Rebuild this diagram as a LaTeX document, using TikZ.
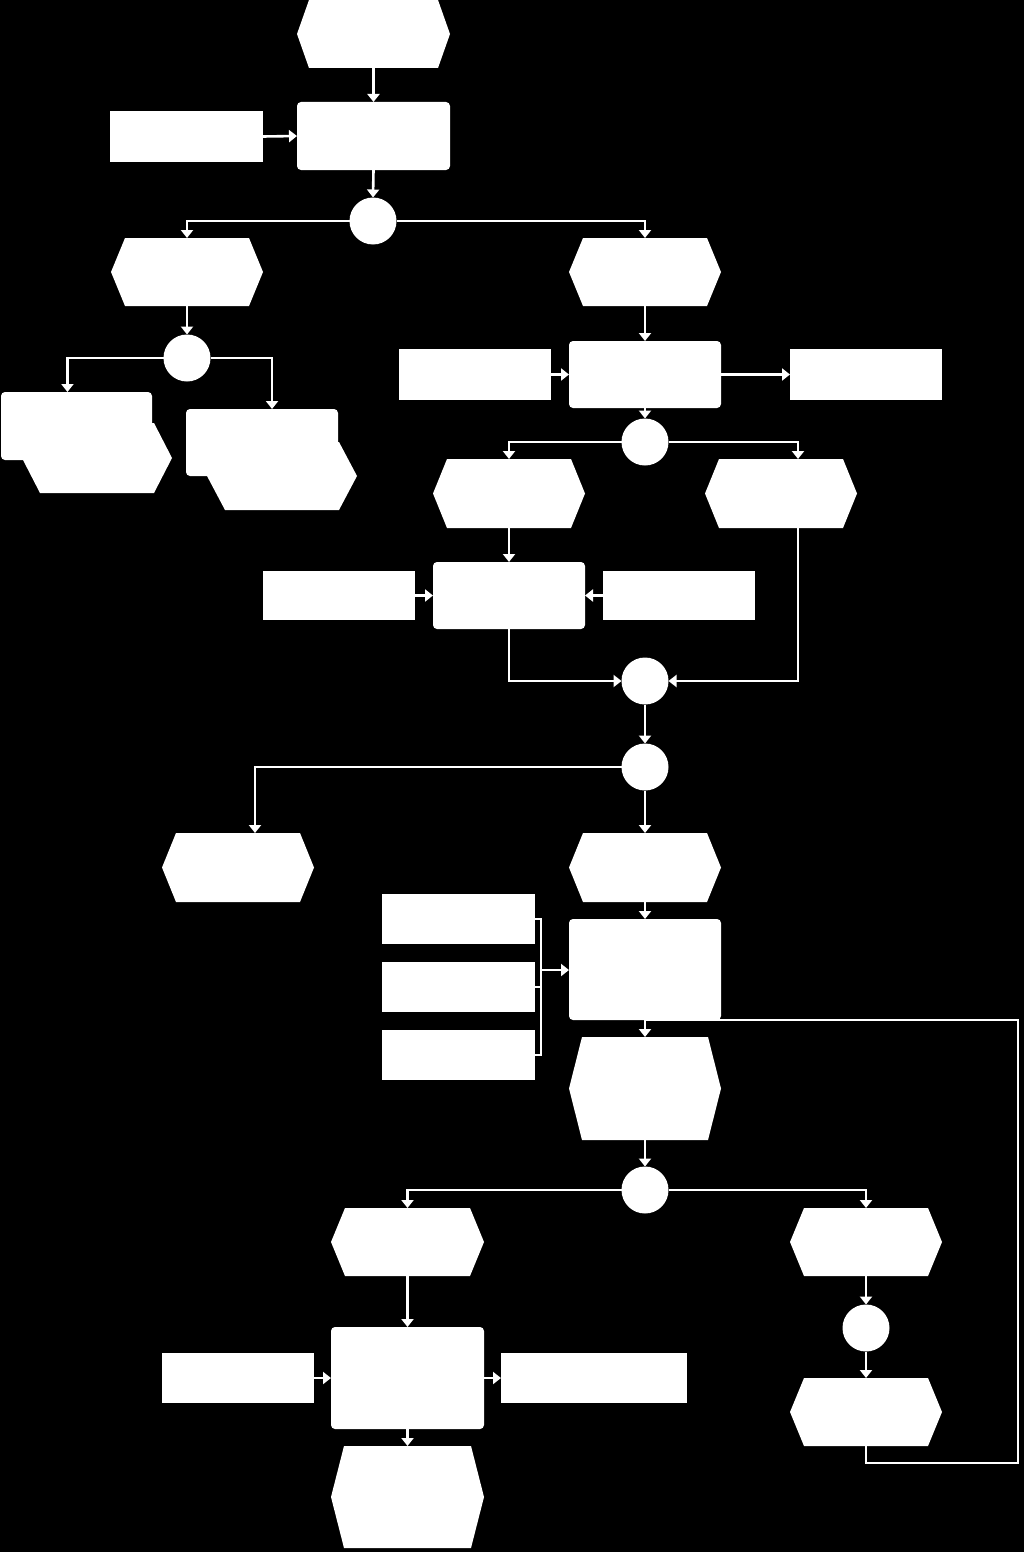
\documentclass[tikz,border=0pt]{standalone}
\usetikzlibrary{arrows.meta,calc}
\begin{document}
\begin{tikzpicture}[x=1pt,y=-1pt,
  base/.style={inner sep=0pt, outer sep=0pt},
  inbox/.style={base, fill=white, minimum width=152pt, minimum height=50pt},
  funbox/.style={base, fill=white, rounded corners=4pt, minimum width=152pt, minimum height=68pt},
  anchorbox/.style={base, minimum width=152pt, minimum height=68pt},
  hexfill/.style={path picture={\fill[white]
     ([xshift=#1]path picture bounding box.north west) -- ([xshift=-#1]path picture bounding box.north east) -- (path picture bounding box.east) -- ([xshift=-#1]path picture bounding box.south east) -- ([xshift=#1]path picture bounding box.south west) -- (path picture bounding box.west) -- cycle;}},
  hexbox/.style={base, fill=black, minimum width=152pt, minimum height=68pt, hexfill=14pt},
  hextall/.style={hexbox, minimum height=102pt, hexfill=13pt},
  joint/.style={base, circle, fill=white, minimum size=47pt},
  link/.style={white, line width=2.6pt},
  arr/.style={link, -{Triangle[width=12pt,length=8pt]}}
]
\fill[black] (0,0) rectangle (1024,1552);
\useasboundingbox (0,0) rectangle (1024,1552);

% top section
\node[hexbox, minimum width=153pt, hexfill=12pt] (e0) at (373.5,34) {};
\node[funbox, minimum width=153pt] (f1) at (373.5,136) {};
\node[inbox, minimum width=153pt, minimum height=51pt] (in1) at (186.5,136.5) {};
\node[joint] (c1) at (373,221) {};
\node[hexbox] (e1l) at (187,272) {};
\node[hexbox] (e1r) at (645,272) {};
\node[joint] (c2) at (187,358) {};

% composite left blocks (process box merged with an event hexagon)
\fill[white] (1,426) [rounded corners=4pt] -- (1,392) -- (152,392) [sharp corners] -- (152,423) -- (154,423) -- (172,458) -- (154,493) -- (40,493) -- (23,460) [rounded corners=4pt] -- (1,460) [sharp corners] -- cycle;
\node[anchorbox, minimum width=151pt] (p1) at (76.5,426) {};
\fill[white] (186,442) [rounded corners=4pt] -- (186,409) -- (338,409) [sharp corners] -- (338,442) -- (339,442) -- (357,476) -- (339,510) -- (225,510) -- (207,476) [rounded corners=4pt] -- (186,476) [sharp corners] -- cycle;
\node[anchorbox, minimum height=67pt] (p2) at (262,442.5) {};

% right branch
\node[funbox, minimum height=67pt] (f2) at (645,374.5) {};
\node[inbox, minimum height=51pt] (in2) at (475,374.5) {};
\node[inbox, minimum height=51pt] (out2) at (866,374.5) {};
\node[joint] (c3) at (645,442) {};
\node[hexbox, minimum height=69pt] (e3l) at (509,493.5) {};
\node[hexbox, minimum height=69pt] (e3r) at (781,493.5) {};
\node[funbox, minimum height=67pt] (f3) at (509,595.5) {};
\node[inbox, minimum height=49pt] (in3a) at (339,595.5) {};
\node[inbox, minimum height=49pt] (in3b) at (679,595.5) {};
\node[joint] (c4) at (645,681) {};
\node[joint] (c5) at (645,767) {};
\node[hexbox, minimum height=69pt] (e5l) at (238,867.5) {};
\node[hexbox, minimum height=69pt] (e5r) at (645,867.5) {};
\node[funbox, minimum height=101pt] (f5) at (645,969.5) {};
\node[inbox, minimum width=153pt] (in5a) at (458.5,919) {};
\node[inbox, minimum width=153pt] (in5b) at (458.5,987) {};
\node[inbox, minimum width=153pt] (in5c) at (458.5,1055) {};
\node[hextall, minimum height=103pt] (e6) at (645,1088.5) {};
\node[joint] (c6) at (645,1190) {};
\node[hexbox, minimum width=153pt] (e7l) at (407.5,1242) {};
\node[hexbox] (e7r) at (866,1242) {};
\node[funbox, minimum width=153pt, minimum height=102pt] (f7) at (407.5,1378) {};
\node[inbox] (in7) at (238,1378) {};
\node[inbox, minimum width=186pt] (out7) at (594,1378) {};
\node[hextall, minimum width=153pt] (e8) at (407.5,1497) {};
\node[joint] (c7) at (866,1328) {};
\node[hexbox] (e7b) at (866,1412) {};

\coordinate (bj) at (541,970);
\coordinate (lp) at (1018,1463);

% connectors
\draw[arr] (e0.south) -- (e0.south |- f1.north);
\draw[arr] (in1.east) -- (f1.west);
\draw[arr] (f1.south) -- (c1.north);
\draw[arr] (c1.west) -| (e1l.north);
\draw[arr] (c1.east) -| (e1r.north);
\draw[arr] (e1l.south) -- (c2.north);
\draw[arr] (c2.west) -| ($(p1.north west)!0.44!(p1.north east)$);
\draw[arr] (c2.east) -| ($(p2.north west)!0.566!(p2.north east)$);
\draw[arr] (e1r.south) -- (f2.north);
\draw[arr] (in2.east) -- (f2.west);
\draw[arr] (f2.east) -- (out2.west);
\draw[arr] (f2.south) -- (c3.north);
\draw[arr] (c3.west) -| (e3l.north);
\draw[arr] (c3.east) -| ($(e3r.north)+(17,0)$);
\draw[arr] (e3l.south) -- (f3.north);
\draw[arr] (in3a.east) -- (f3.west);
\draw[arr] (in3b.west) -- (f3.east);
\draw[arr] (f3.south) |- (c4.west);
\draw[arr] ($(e3r.south)+(17,0)$) |- (c4.east);
\draw[arr] (c4.south) -- (c5.north);
\draw[arr] (c5.west) -| ($(e5l.north)+(17,0)$);
\draw[arr] (c5.south) -- (e5r.north);
\draw[arr] (e5r.south) -- (f5.north);
\draw[link] (in5a.east) -| (bj) |- (in5c.east);
\draw[link] (in5b.east) -- (in5b.east -| bj);
\draw[arr] (bj) -- (bj -| f5.west);
\draw[arr] (f5.south) -- (e6.north);
\draw[link] (e7b.south) |- (lp) |- (f5.south);
\draw[arr] (e6.south) -- (c6.north);
\draw[arr] (c6.west) -| (e7l.north);
\draw[arr] (c6.east) -| (e7r.north);
\draw[arr] (e7l.south) -- (f7.north);
\draw[arr] (in7.east) -- (f7.west);
\draw[arr] (f7.east) -- (out7.west);
\draw[arr] (f7.south) -- (e8.north);
\draw[arr] (e7r.south) -- (c7.north);
\draw[arr] (c7.south) -- (e7b.north);
\end{tikzpicture}
\end{document}
